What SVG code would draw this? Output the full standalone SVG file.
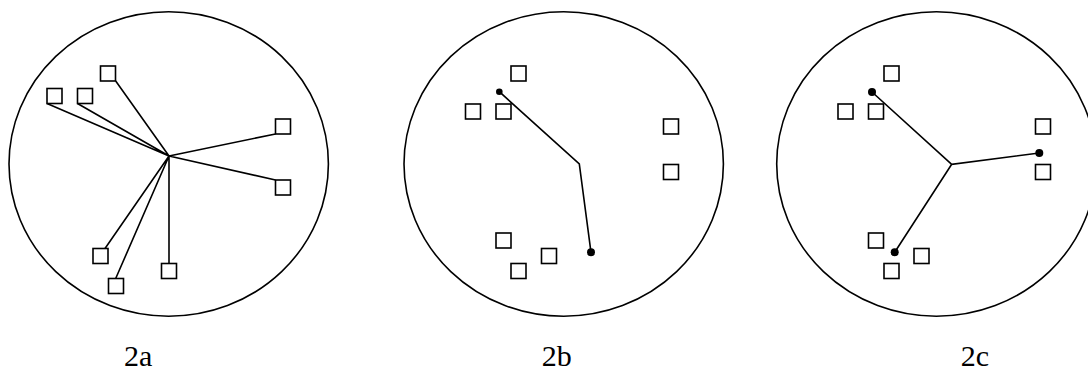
<svg xmlns="http://www.w3.org/2000/svg" width="1088" height="372" viewBox="0 0 1088 372">
<style>
.ring{fill:none;stroke:#000;stroke-width:1.6}
.sq{fill:#fff;stroke:#000;stroke-width:1.6}
.ln{fill:none;stroke:#000;stroke-width:1.6;stroke-linejoin:miter}
.dot{fill:#000}
.lbl{font-family:"Liberation Serif","Times New Roman",serif;font-size:30px;fill:#000}
</style>
<rect width="1088" height="372" fill="#fff"/>
<g id="panel-2a">
<ellipse class="ring" cx="168.7" cy="164" rx="159.7" ry="152.2"/>
<g id="connectors-2a">
<path class="ln" d="M169,156 L115.7,81 M169,156 L47,103.5 M169,156 L77.5,103.5 M169,156 L275.5,134 M169,156 L275.5,180 M169,156 L105,248.5 M169,156 L115.7,278.5 M169,156 L169,263.5"/>
</g>
<rect class="sq" x="100.5" y="66" width="15" height="15"/>
<rect class="sq" x="47" y="88.5" width="15" height="15"/>
<rect class="sq" x="77.5" y="88.5" width="15" height="15"/>
<rect class="sq" x="275.5" y="119" width="15" height="15"/>
<rect class="sq" x="275.5" y="180" width="15" height="15"/>
<rect class="sq" x="93" y="248.5" width="15" height="15"/>
<rect class="sq" x="108.5" y="278.5" width="15" height="15"/>
<rect class="sq" x="161.5" y="263.5" width="15" height="15"/>
<text class="lbl" x="124" y="366">2a</text>
</g>
<g id="panel-2b">
<ellipse class="ring" cx="563.7" cy="164" rx="159.7" ry="152.2"/>
<rect class="sq" x="511" y="66" width="15" height="15"/>
<rect class="sq" x="465.5" y="104" width="15" height="15"/>
<rect class="sq" x="496" y="104" width="15" height="15"/>
<rect class="sq" x="663.5" y="119" width="15" height="15"/>
<rect class="sq" x="663.5" y="164.5" width="15" height="15"/>
<rect class="sq" x="496" y="233" width="15" height="15"/>
<rect class="sq" x="541.5" y="248.5" width="15" height="15"/>
<rect class="sq" x="511" y="263.5" width="15" height="15"/>
<g id="connectors-2b">
<polyline class="ln" points="499.3,91.7 579.3,164 591,252.3"/>
</g>
<circle class="dot" cx="499.3" cy="91.7" r="3.3"/>
<circle class="dot" cx="591" cy="252.3" r="4"/>
<text class="lbl" x="541.7" y="366">2b</text>
</g>
<g id="panel-2c">
<ellipse class="ring" cx="936.4" cy="164" rx="159.7" ry="152.2"/>
<rect class="sq" x="884" y="66" width="15" height="15"/>
<rect class="sq" x="838" y="104" width="15" height="15"/>
<rect class="sq" x="868.5" y="104" width="15" height="15"/>
<rect class="sq" x="1035.5" y="119" width="15" height="15"/>
<rect class="sq" x="1035.5" y="164.5" width="15" height="15"/>
<rect class="sq" x="868.5" y="233" width="15" height="15"/>
<rect class="sq" x="914" y="248.5" width="15" height="15"/>
<rect class="sq" x="884" y="263.5" width="15" height="15"/>
<g id="connectors-2c">
<path class="ln" d="M872,92 L951.7,164.3 L1039.3,153 M951.7,164.3 L894.7,252.3"/>
</g>
<circle class="dot" cx="872" cy="92" r="4"/>
<circle class="dot" cx="1039.3" cy="153" r="4"/>
<circle class="dot" cx="894.7" cy="252.3" r="4"/>
<text class="lbl" x="960.7" y="366">2c</text>
</g>
</svg>
